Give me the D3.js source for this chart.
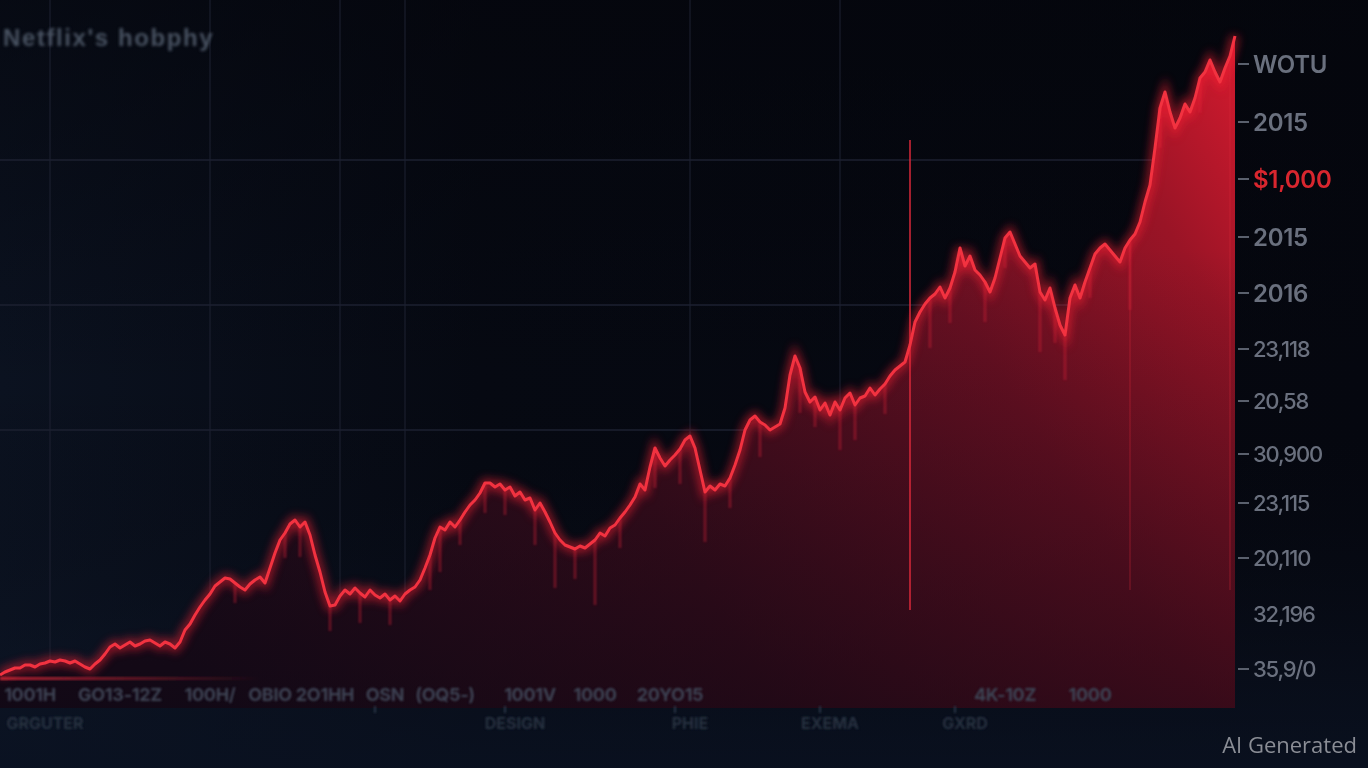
<!DOCTYPE html>
<html><head><meta charset="utf-8">
<script src="https://cdn.jsdelivr.net/npm/d3@7/dist/d3.min.js"></script>
<style>
html,body{margin:0;padding:0;background:#05070f;overflow:hidden;}
svg{display:block;}
</style></head>
<body>
<svg id="chart" width="1368" height="768"></svg>
<script>
// ---- data ----
const title = "Netflix's hobphy";
const prices = [
  5,8,10,12,12,15,15,13,16,17,19,18,20,19,17,19,16,13,11,16,
  20,26,33,36,32,35,38,34,36,39,40,37,34,38,36,32,38,50,56,65,
  73,80,86,94,98,102,101,97,93,90,96,100,103,97,112,127,140,147,156,160,
  153,158,145,125,108,88,74,75,84,90,86,92,87,83,90,85,82,86,80,84,
  79,86,90,93,100,112,125,142,153,150,158,153,160,168,175,180,187,197,197,193,
  196,190,193,184,188,180,182,170,177,168,158,147,140,135,133,131,134,132,136,140,
  147,144,152,155,162,168,175,183,196,190,213,232,222,214,220,225,231,240,244,232,
  210,188,194,190,196,194,202,215,230,250,260,264,258,255,250,253,256,272,305,324,
  312,288,278,283,270,277,265,278,270,282,287,275,282,284,292,285,291,296,304,310,
  314,318,335,358,368,376,382,386,393,382,392,408,432,414,424,410,405,398,388,402,
  422,442,448,436,424,418,412,416,388,380,392,372,355,345,382,395,382,398,412,426,
  432,436,430,424,418,432,440,446,458,478,495,532,572,588,568,552,562,576,568,582,
  602,608,620,608,598,612,624,644
];
// faint drip streaks below the line: [week index, depth]
const dripWeeks  = [47, 57, 60, 66, 72, 78, 86, 88, 92, 97, 101, 107, 111, 115, 119, 124, 131, 136, 141, 146, 152, 160, 163, 168, 171, 177, 186, 190, 197, 201, 208, 211, 213, 218, 226, 232, 240];
const dripDepths = [20, 25, 30, 25, 30, 25, 35, 45, 25, 30, 25, 35, 55, 30, 65, 30, 40, 35, 50, 30, 35, 45, 30, 40, 35, 30, 50, 35, 40, 30, 60, 35, 45, 30, 70, 40, 35];
// tall vertical spikes: [week, top value, bottom value]
const spikeWeeks   = [182, 226, 246];
const spikeTops    = [540, 440, 620];
const spikeBottoms = [70, 90, 90];
// gridlines
const gridPrices = [520, 375, 250];
const gridWeeks  = [10, 42, 68, 81, 138, 168];
// right axis labels (top to bottom) and the values they sit at
const rightLabels = ["WOTU","2015","$1,000","2015","2016","23,118","20,58","30,900","23,115","20,110","32,196","35,9/0"];
const rightTickValues = [616, 558, 501, 443, 387, 331, 279, 226, 177, 122, 66, 11];
// bottom labels
const bottomRow1 = ["1001H","GO13-12Z","100H/","OBIO","2O1HH","OSN","(OQ5-)","1001V","1000","20YO15","4K-10Z","1000"];
const bottomRow1Weeks = [6, 24, 42, 54, 65, 77, 89, 106, 119, 134, 201, 218];
const bottomRow2 = ["GRGUTER","DESIGN","PHIE","EXEMA","GXRD"];
const bottomRow2Weeks = [9, 103, 138, 166, 193];
const minorTickWeeks = [75, 101, 135, 164, 191];
const watermark = "AI Generated";

// ---- drawing ----
const W = 1368, H = 768;
const svg = d3.select("#chart");
const defs = svg.append("defs");

const x = d3.scaleLinear().domain([0, prices.length - 1]).range([0, 1235]);
const y = d3.scaleLinear().domain([-28, 650]).range([708, 30]);

// background gradients
const bg = defs.append("linearGradient").attr("id","bg").attr("x1",0).attr("y1",0).attr("x2",1).attr("y2",0);
bg.append("stop").attr("offset",0).attr("stop-color","#0b1220");
bg.append("stop").attr("offset",0.35).attr("stop-color","#060912");
bg.append("stop").attr("offset",1).attr("stop-color","#05070f");
svg.append("rect").attr("width",W).attr("height",H).attr("fill","url(#bg)");
const bgv = defs.append("linearGradient").attr("id","bgv").attr("x1",0).attr("y1",0).attr("x2",0).attr("y2",1);
bgv.append("stop").attr("offset",0).attr("stop-color","#04050b").attr("stop-opacity",0.6);
bgv.append("stop").attr("offset",0.5).attr("stop-color","#04050b").attr("stop-opacity",0);
bgv.append("stop").attr("offset",0.85).attr("stop-color","#0c1424").attr("stop-opacity",0.4);
bgv.append("stop").attr("offset",1).attr("stop-color","#0a1222").attr("stop-opacity",0.8);
svg.append("rect").attr("width",W).attr("height",H).attr("fill","url(#bgv)");

// panel bottom band
svg.append("rect").attr("x",0).attr("y",y(-8)).attr("width",x(prices.length-1)).attr("height",y(-28)-y(-8))
  .attr("fill","#1a1020").attr("opacity",0.6);

// gridlines
const g = svg.append("g").attr("stroke","#1c2131").attr("stroke-width",1.5);
g.selectAll("line.h").data(gridPrices).join("line").attr("class","h")
  .attr("x1",0).attr("x2",x(232)).attr("y1",d=>y(d)).attr("y2",d=>y(d));
g.selectAll("line.v").data(gridWeeks).join("line").attr("class","v")
  .attr("x1",d=>x(d)).attr("x2",d=>x(d)).attr("y1",0).attr("y2",y(-28)).attr("opacity",0.7);

// area gradients
const ag = defs.append("linearGradient").attr("id","areaG").attr("gradientUnits","userSpaceOnUse")
  .attr("x1",200).attr("y1",700).attr("x2",1235).attr("y2",60);
ag.append("stop").attr("offset",0).attr("stop-color","#1c0c1a");
ag.append("stop").attr("offset",0.4).attr("stop-color","#3e0d1c");
ag.append("stop").attr("offset",0.7).attr("stop-color","#6c1022");
ag.append("stop").attr("offset",0.88).attr("stop-color","#9a1426");
ag.append("stop").attr("offset",1).attr("stop-color","#d01a2e");
const av = defs.append("linearGradient").attr("id","areaV").attr("gradientUnits","userSpaceOnUse")
  .attr("x1",0).attr("y1",250).attr("x2",0).attr("y2",710);
av.append("stop").attr("offset",0).attr("stop-color","#0a0612").attr("stop-opacity",0);
av.append("stop").attr("offset",1).attr("stop-color","#0a0612").attr("stop-opacity",0.55);

const area = d3.area().x((d,i)=>x(i)).y0(y(-28)).y1(d=>y(d));
svg.append("path").datum(prices).attr("d",area).attr("fill","url(#areaG)");
svg.append("path").datum(prices).attr("d",area).attr("fill","url(#areaV)");

// filters
const f = defs.append("filter").attr("id","glow").attr("x","-10%").attr("y","-10%").attr("width","120%").attr("height","120%");
f.append("feGaussianBlur").attr("stdDeviation",5);
const fb = defs.append("filter").attr("id","soft");
fb.append("feGaussianBlur").attr("stdDeviation",1.2);
const fb2 = defs.append("filter").attr("id","soft2");
fb2.append("feGaussianBlur").attr("stdDeviation",0.7);
const fb3 = defs.append("filter").attr("id","soft3");
fb3.append("feGaussianBlur").attr("stdDeviation",1.6);

// drips
svg.append("g").attr("filter","url(#soft)").selectAll("line").data(dripWeeks).join("line")
  .attr("x1",d=>x(d)).attr("x2",d=>x(d))
  .attr("y1",d=>y(prices[d])).attr("y2",(d,i)=>y(prices[d]-dripDepths[i]))
  .attr("stroke","#e02a3a").attr("stroke-width",2.5).attr("opacity",0.42);

// spikes
svg.append("g").selectAll("line").data(spikeWeeks).join("line")
  .attr("x1",d=>x(d)).attr("x2",d=>x(d))
  .attr("y1",(d,i)=>y(spikeTops[i])).attr("y2",(d,i)=>y(spikeBottoms[i]))
  .attr("stroke","#d8283a").attr("stroke-width",(d,i)=>i===0?2:1.5)
  .attr("opacity",(d,i)=>i===0?0.75:0.3);

// baseline red glow (left)
const bl = defs.append("linearGradient").attr("id","bl");
bl.append("stop").attr("offset",0).attr("stop-color","#e02a3a").attr("stop-opacity",0.8);
bl.append("stop").attr("offset",1).attr("stop-color","#e02a3a").attr("stop-opacity",0);
svg.append("rect").attr("x",0).attr("y",y(3)).attr("width",x(52)).attr("height",3).attr("fill","url(#bl)").attr("filter","url(#soft)");

// line
const line = d3.line().x((d,i)=>x(i)).y(d=>y(d));
svg.append("path").datum(prices).attr("d",line).attr("fill","none")
  .attr("stroke","#ff2236").attr("stroke-width",8).attr("opacity",0.6).attr("filter","url(#glow)");
svg.append("path").datum(prices).attr("d",line).attr("fill","none")
  .attr("stroke","#f2323f").attr("stroke-width",3).attr("stroke-linejoin","round").attr("filter","url(#soft2)");

// right axis
const ra = svg.append("g").attr("filter","url(#soft2)");
ra.selectAll("line").data(rightTickValues).join("line")
  .attr("x1",1238).attr("x2",1249).attr("y1",d=>y(d)).attr("y2",d=>y(d))
  .attr("stroke",(d,i)=>i===10?"none":"#5a606d").attr("stroke-width",2);
ra.selectAll("text").data(rightLabels).join("text")
  .attr("x",1253).attr("y",(d,i)=>y(rightTickValues[i])).attr("dy","0.36em")
  .attr("font-family","Inter, 'DejaVu Sans', sans-serif")
  .attr("font-weight",(d,i)=>i<5?600:500)
  .attr("font-size",(d,i)=>i<5?24:22)
  .attr("letter-spacing",(d,i)=>i<5?-0.3:-1.2)
  .attr("fill",(d,i)=>i===2?"#d9262f":"#6a707e")
  .text(d=>d);

// bottom labels
const bt = svg.append("g").attr("filter","url(#soft)").attr("font-family","Inter, 'DejaVu Sans', sans-serif").attr("font-weight",700);
bt.selectAll("text.r1").data(bottomRow1).join("text").attr("class","r1")
  .attr("x",(d,i)=>x(bottomRow1Weeks[i])).attr("y",701).attr("text-anchor","middle")
  .attr("font-size",18).attr("letter-spacing",-0.3).attr("fill","#3c4252").text(d=>d);
bt.selectAll("text.r2").data(bottomRow2).join("text").attr("class","r2")
  .attr("x",(d,i)=>x(bottomRow2Weeks[i])).attr("y",729).attr("text-anchor","middle")
  .attr("font-size",16).attr("fill","#283040").text(d=>d);
bt.selectAll("line").data(minorTickWeeks).join("line")
  .attr("x1",d=>x(d)).attr("x2",d=>x(d)).attr("y1",706).attr("y2",713)
  .attr("stroke","#2c3444").attr("stroke-width",2);

// title
svg.append("text").attr("x",3).attr("y",46).attr("filter","url(#soft3)")
  .attr("font-family","'Liberation Sans', Arial, sans-serif").attr("font-weight",700)
  .attr("font-size",24).attr("letter-spacing",1.6).attr("fill","#485262").text(title);

// watermark
svg.append("text").attr("x",1357).attr("y",753).attr("text-anchor","end")
  .attr("font-family","'Open Sans', 'Noto Sans', sans-serif").attr("font-weight",400)
  .attr("font-size",22).attr("fill","#8a8d95").text(watermark);
</script>
</body></html>
